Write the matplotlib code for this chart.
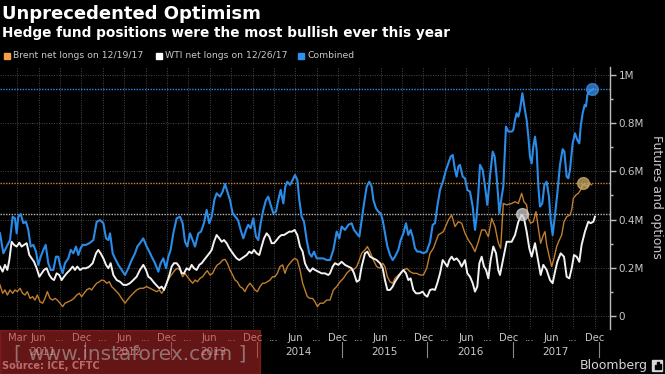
import numpy as np
import pandas as pd
import matplotlib
matplotlib.use("Agg")
import matplotlib.pyplot as plt
from matplotlib.patches import Rectangle
from matplotlib.transforms import blended_transform_factory

plt.rcParams['font.family'] = ['DejaVu Sans']

# ---------------- data: (years since 2011-01-01, million contracts) ----------------
combined = [
 (0.000,.343),(0.039,.260),(0.078,.288),(0.117,.315),(0.148,.412),(0.175,.405),(0.195,.343),(0.214,.412),(0.242,.423),(0.273,.385),
 (0.304,.391),(0.331,.357),(0.359,.288),(0.390,.295),(0.421,.267),(0.448,.212),(0.476,.246),(0.507,.274),(0.534,.295),(0.565,.219),
 (0.593,.191),(0.624,.191),(0.655,.246),(0.682,.246),(0.702,.212),(0.733,.177),(0.760,.219),(0.799,.239),(0.827,.274),(0.858,.260),
 (0.889,.288),(0.916,.253),(0.943,.281),(0.967,.295),(1.006,.295),(1.045,.302),(1.092,.315),(1.131,.391),(1.170,.398),(1.209,.385),
 (1.240,.322),(1.267,.315),(1.287,.343),(1.318,.260),(1.345,.239),(1.384,.212),(1.423,.191),(1.462,.170),(1.501,.198),(1.540,.232),
 (1.579,.260),(1.606,.288),(1.637,.302),(1.676,.322),(1.715,.288),(1.747,.267),(1.774,.246),(1.813,.219),(1.852,.184),(1.879,.219),
 (1.910,.239),(1.942,.198),(1.969,.246),(1.996,.274),(2.027,.343),(2.066,.405),(2.105,.412),(2.136,.385),(2.164,.308),(2.191,.288),
 (2.222,.343),(2.253,.315),(2.281,.288),(2.320,.343),(2.351,.350),(2.386,.385),(2.417,.440),(2.448,.385),(2.476,.412),(2.507,.481),
 (2.534,.509),(2.573,.495),(2.604,.516),(2.632,.548),(2.659,.516),(2.690,.481),(2.721,.426),(2.752,.412),(2.784,.398),(2.815,.357),
 (2.846,.322),(2.877,.357),(2.904,.378),(2.932,.364),(2.963,.405),(2.994,.329),(3.021,.315),(3.049,.385),(3.080,.440),(3.111,.481),
 (3.138,.495),(3.166,.461),(3.197,.426),(3.228,.433),(3.255,.481),(3.283,.523),(3.314,.467),(3.337,.537),(3.361,.557),(3.392,.544),
 (3.423,.564),(3.450,.585),(3.478,.564),(3.501,.481),(3.528,.412),(3.556,.391),(3.587,.315),(3.618,.260),(3.645,.246),(3.673,.267),
 (3.704,.239),(3.743,.239),(3.782,.239),(3.821,.232),
 (3.860,.232),(3.899,.274),(3.938,.350),(3.969,.322),(3.996,.371),(4.035,.357),(4.074,.378),(4.113,.385),(4.141,.357),(4.172,.343),
 (4.203,.329),(4.230,.398),(4.258,.467),(4.289,.537),(4.320,.557),(4.347,.537),(4.367,.481),(4.398,.447),(4.425,.433),(4.453,.426),
 (4.476,.398),(4.503,.343),(4.531,.288),(4.562,.253),(4.593,.232),(4.620,.246),(4.659,.274),(4.687,.315),(4.718,.343),(4.749,.385),
 (4.776,.336),(4.803,.357),(4.827,.329),(4.854,.281),(4.881,.267),(4.913,.267),(4.952,.260),(4.991,.267),(5.030,.308),(5.061,.378),
 (5.088,.385),(5.115,.454),(5.147,.523),(5.186,.564),(5.217,.606),(5.244,.633),(5.271,.661),(5.295,.668),(5.322,.606),(5.341,.578),
 (5.361,.620),(5.380,.627),(5.412,.578),(5.439,.571),(5.466,.523),(5.497,.516),(5.529,.454),(5.556,.357),(5.575,.412),(5.595,.509),
 (5.614,.627),(5.646,.606),(5.673,.537),(5.700,.461),(5.731,.578),(5.763,.682),(5.786,.661),(5.809,.578),(5.841,.426),(5.868,.495),
 (5.887,.537),(5.918,.786),(5.946,.765),(5.985,.765),(6.004,.772),(6.024,.813),(6.043,.841),(6.063,.827),(6.082,.855),(6.110,.924),
 (6.133,.869),(6.160,.813),(6.180,.744),(6.199,.661),(6.219,.633),(6.238,.703),(6.258,.744),(6.277,.689),(6.297,.537),(6.316,.454),
 (6.343,.467),(6.367,.544),(6.394,.557),(6.421,.495),(6.441,.398),(6.464,.336),(6.492,.419),(6.519,.509),(6.550,.627),(6.581,.692),
 (6.601,.682),(6.628,.578),(6.648,.571),(6.667,.606),(6.698,.716),(6.725,.758),(6.753,.730),(6.776,.716),(6.792,.786),(6.815,.841),
 (6.839,.876),(6.854,.869),(6.870,.917),(6.893,.931),(6.920,.938),(6.940,.941)]

brent = [
 (0.000,.129),(0.031,.094),(0.058,.108),(0.086,.087),(0.117,.108),(0.148,.094),(0.175,.108),(0.203,.101),(0.234,.115),(0.265,.094),
 (0.292,.087),(0.320,.101),(0.351,.073),(0.382,.080),(0.409,.066),(0.437,.087),(0.468,.059),(0.499,.053),(0.526,.073),(0.554,.101),
 (0.585,.073),(0.616,.066),(0.643,.073),(0.671,.066),(0.702,.053),(0.733,.039),(0.760,.053),(0.799,.059),(0.838,.066),(0.865,.073),
 (0.897,.087),(0.928,.094),(0.955,.080),(0.982,.094),(1.014,.108),(1.045,.115),(1.072,.108),(1.099,.122),(1.131,.136),(1.162,.142),
 (1.189,.149),(1.216,.147),(1.248,.136),(1.279,.142),(1.306,.122),(1.345,.108),(1.384,.094),(1.423,.073),(1.462,.053),(1.489,.066),
 (1.520,.080),(1.559,.094),(1.598,.108),(1.637,.115),(1.676,.115),(1.715,.122),(1.754,.115),(1.793,.108),(1.832,.101),(1.864,.108),
 (1.891,.094),(1.918,.108),(1.949,.136),(1.988,.163),(2.019,.177),(2.047,.191),(2.074,.198),(2.105,.191),(2.136,.163),(2.164,.177),
 (2.191,.163),(2.222,.149),(2.253,.136),(2.281,.149),(2.308,.142),(2.339,.156),(2.370,.163),(2.398,.177),(2.425,.188),(2.456,.170),
 (2.487,.177),(2.515,.198),(2.542,.212),(2.573,.219),(2.604,.232),(2.632,.235),(2.659,.219),(2.690,.191),(2.721,.170),(2.749,.149),
 (2.776,.142),(2.807,.122),(2.838,.115),(2.865,.101),(2.893,.122),(2.924,.136),(2.955,.122),(2.982,.108),(3.010,.101),(3.041,.122),
 (3.072,.136),(3.099,.136),(3.127,.142),(3.158,.149),(3.189,.163),(3.216,.163),(3.244,.177),(3.275,.205),(3.306,.212),(3.333,.177),
 (3.361,.205),(3.392,.219),(3.423,.232),(3.450,.239),(3.478,.232),(3.509,.191),(3.540,.136),(3.567,.108),(3.595,.080),(3.626,.073),
 (3.657,.073),(3.684,.059),(3.712,.039),(3.743,.053),(3.782,.053),(3.821,.066),(3.860,.066),
 (3.899,.108),(3.938,.122),(3.977,.142),(4.016,.156),(4.055,.177),(4.094,.191),(4.133,.191),(4.172,.205),(4.203,.232),(4.230,.260),
 (4.269,.274),(4.297,.288),(4.328,.267),(4.367,.232),(4.406,.205),(4.445,.198),(4.476,.219),(4.503,.205),(4.531,.163),(4.562,.142),
 (4.593,.136),(4.620,.156),(4.659,.170),(4.698,.184),(4.757,.198),(4.796,.184),(4.835,.177),(4.874,.177),(4.913,.170),(4.952,.170),
 (4.991,.198),(5.030,.260),(5.069,.281),(5.127,.336),(5.186,.350),(5.244,.398),(5.283,.419),(5.322,.371),(5.361,.391),(5.400,.385),
 (5.439,.343),(5.478,.315),(5.517,.295),(5.556,.267),(5.595,.308),(5.634,.357),(5.673,.357),(5.712,.329),(5.751,.405),(5.790,.371),
 (5.829,.302),(5.856,.281),(5.887,.467),(5.926,.461),(5.985,.467),(6.024,.474),(6.063,.467),(6.102,.509),(6.129,.474),(6.160,.461),
 (6.180,.405),(6.207,.385),(6.238,.391),(6.269,.433),(6.297,.364),(6.324,.302),(6.355,.336),(6.375,.350),(6.394,.295),(6.425,.246),
 (6.453,.205),(6.480,.239),(6.511,.288),(6.542,.315),(6.570,.336),(6.597,.391),(6.628,.412),(6.667,.419),(6.687,.440),(6.706,.488),
 (6.737,.502),(6.764,.509),(6.792,.523),(6.815,.544),(6.842,.544),(6.870,.537),(6.901,.550),(6.920,.544)]

wti = [
 (0.000,.205),(0.031,.184),(0.058,.212),(0.086,.191),(0.109,.232),(0.136,.308),(0.164,.295),(0.195,.288),(0.226,.304),(0.253,.288),
 (0.281,.295),(0.312,.302),(0.343,.253),(0.370,.239),(0.398,.225),(0.429,.198),(0.460,.163),(0.487,.177),(0.515,.191),(0.546,.198),
 (0.577,.170),(0.604,.156),(0.632,.149),(0.663,.177),(0.694,.170),(0.721,.149),(0.749,.163),(0.780,.177),(0.819,.191),(0.850,.205),
 (0.877,.191),(0.904,.205),(0.936,.191),(0.967,.198),(1.006,.198),(1.045,.205),(1.084,.219),(1.123,.260),(1.150,.274),(1.177,.260),
 (1.209,.239),(1.240,.212),(1.267,.198),(1.294,.219),(1.326,.170),(1.365,.149),(1.404,.142),(1.443,.129),(1.481,.129),(1.520,.136),
 (1.559,.149),(1.598,.163),(1.637,.191),(1.676,.212),(1.708,.191),(1.735,.163),(1.762,.156),(1.793,.142),(1.825,.129),(1.864,.115),
 (1.891,.122),(1.918,.108),(1.949,.136),(1.981,.170),(2.008,.205),(2.035,.219),(2.066,.219),(2.097,.205),(2.125,.177),(2.152,.177),
 (2.183,.198),(2.214,.191),(2.242,.212),(2.269,.198),(2.300,.191),(2.331,.212),(2.359,.219),(2.386,.232),(2.417,.246),(2.448,.260),
 (2.476,.274),(2.503,.308),(2.534,.336),(2.565,.322),(2.593,.308),(2.620,.315),(2.651,.302),(2.682,.281),(2.710,.267),(2.737,.253),
 (2.768,.239),(2.799,.232),(2.827,.239),(2.854,.246),(2.885,.253),(2.916,.267),(2.943,.260),(2.971,.274),(3.002,.260),(3.033,.253),
 (3.060,.288),(3.088,.322),(3.119,.343),(3.150,.329),(3.177,.302),(3.205,.302),(3.236,.315),(3.267,.329),(3.294,.336),(3.322,.336),
 (3.353,.343),(3.384,.350),(3.415,.350),(3.446,.357),(3.478,.336),(3.509,.288),(3.540,.267),(3.567,.219),(3.595,.198),(3.626,.184),
 (3.657,.198),(3.684,.191),(3.723,.184),(3.762,.177),(3.801,.177),(3.840,.170),
 (3.860,.177),(3.891,.205),(3.918,.219),(3.957,.212),(3.996,.225),(4.035,.212),(4.074,.205),(4.113,.198),(4.141,.177),(4.172,.142),
 (4.203,.149),(4.230,.205),(4.269,.260),(4.297,.267),(4.328,.246),(4.367,.239),(4.406,.232),(4.445,.219),(4.476,.198),(4.503,.149),
 (4.531,.108),(4.562,.108),(4.593,.122),(4.620,.142),(4.659,.163),(4.687,.177),(4.718,.191),(4.749,.177),(4.776,.149),(4.803,.156),
 (4.835,.108),(4.866,.094),(4.905,.094),(4.944,.101),(4.971,.087),(4.998,.080),(5.030,.108),(5.061,.111),(5.088,.108),(5.115,.136),
 (5.147,.177),(5.178,.232),(5.205,.219),(5.232,.205),(5.256,.232),(5.283,.246),(5.310,.232),(5.341,.239),(5.373,.225),(5.400,.205),
 (5.439,.232),(5.466,.177),(5.497,.163),(5.529,.136),(5.556,.101),(5.583,.122),(5.607,.219),(5.634,.246),(5.661,.205),(5.685,.191),
 (5.712,.156),(5.739,.232),(5.770,.288),(5.802,.260),(5.829,.190),(5.848,.170),(5.887,.239),(5.926,.308),(5.985,.308),(6.024,.336),
 (6.063,.391),(6.102,.420),(6.129,.405),(6.160,.350),(6.191,.281),(6.219,.246),(6.258,.302),(6.297,.225),(6.324,.170),(6.355,.212),
 (6.394,.191),(6.433,.149),(6.464,.136),(6.492,.184),(6.519,.225),(6.558,.260),(6.597,.246),(6.628,.163),(6.659,.156),(6.687,.198),
 (6.714,.253),(6.745,.246),(6.776,.225),(6.803,.295),(6.842,.350),(6.881,.391),(6.909,.385),(6.940,.391),(6.959,.412)]

# record levels and where they were marked
record_combined = (6.925, 0.942)
record_brent = (6.820, 0.551)
record_wti = (6.104, 0.423)

legend_labels = ["Brent net longs on 12/19/17", "WTI net longs on 12/26/17", "Combined"]
ytick_vals = [0, 0.2, 0.4, 0.6, 0.8, 1.0]
ytick_labels = ["0", "0.2M", "0.4M", "0.6M", "0.8M", "1M"]
years = list(range(2011, 2018))

BASE = pd.Timestamp("2011-01-01")
def to_date(yrs):
    return BASE + pd.to_timedelta(np.asarray(yrs, dtype=float) * 365.25, unit="D")

def split(series):
    t, v = zip(*series)
    return to_date(t), np.array(v)

# ---------------- figure ----------------
W, H = 665, 374
fig = plt.figure(figsize=(W / 100, H / 100), dpi=100, facecolor="black")
ax_l, ax_r, ax_t, ax_b = 0, 610, 67, 329
ax = fig.add_axes([ax_l / W, 1 - ax_b / H, (ax_r - ax_l) / W, (ax_b - ax_t) / H])
ax.set_facecolor("black")

BLUE = "#2a8ce8"
ORANGE_LINE = "#c17e2e"
ORANGE_SQ = "#f5a23e"
WHITE = "#f2f2f2"

# reference dotted lines
ax.axhline(record_combined[1], color=BLUE, lw=1.0, ls=(0, (1, 1)), zorder=2)
ax.axhline(record_brent[1], color="#c8893a", lw=1.0, ls=(0, (1, 1)), zorder=2)
ax.axhline(record_wti[1], color="#b8b8b8", lw=1.0, ls=(0, (1, 1)), zorder=2)

d, v = split(brent)
ax.plot(d, v, color=ORANGE_LINE, lw=1.0, zorder=3)
d, v = split(wti)
ax.plot(d, v, color=WHITE, lw=1.4, zorder=4)
d, v = split(combined)
ax.plot(d, v, color=BLUE, lw=1.5, zorder=5)

for (t, val), col in [(record_combined, "#3a90e8"), (record_brent, "#c9ad6a"), (record_wti, "#cfcfcf")]:
    ax.plot(to_date([t]), [val], "o", ms=8.5, mfc=col, mec=col, alpha=0.75, zorder=6)

ax.set_xlim(BASE, to_date([7.135])[0])
ax.set_ylim(-0.054, 1.033)

# spines
for s in ["left", "top", "bottom"]:
    ax.spines[s].set_visible(False)
ax.spines["right"].set_color("#bdbdbd")
ax.spines["right"].set_linewidth(1.0)

# y axis on right
ax.yaxis.tick_right()
ax.set_yticks(ytick_vals)
ax.set_yticklabels(ytick_labels)
ax.set_yticks([0.1, 0.3, 0.5, 0.7, 0.9], minor=True)
ax.tick_params(axis="y", which="major", length=4, width=1, color="#bdbdbd",
               labelcolor="#c8c8c8", labelsize=7.5, pad=2)
ax.tick_params(axis="y", which="minor", length=2, width=1, color="#bdbdbd")

# x ticks quarterly
qticks, qlabels = [], []
for y in years:
    for m, lab in [(3, "..."), (6, "Jun"), (9, "..."), (12, "Dec")]:
        qticks.append(pd.Timestamp(year=y, month=m, day=15))
        if y == 2011 and m == 3:
            lab = "Mar"
        qlabels.append(lab)
ax.set_xticks(qticks)
ax.set_xticklabels(qlabels)
ax.tick_params(axis="x", length=0, labelcolor="#c8c8c8", labelsize=7.2, pad=3)

gridkw = dict(color="#4a4a4a", lw=0.7, ls=(0, (1, 1.5)))
ax.yaxis.grid(True, which="major", **gridkw)
ax.xaxis.grid(True, which="major", **gridkw)
ax.set_axisbelow(True)

trans = blended_transform_factory(ax.transData, ax.transAxes)
for y in years:
    ax.text(pd.Timestamp(year=y, month=7, day=1), -0.089, str(y), transform=trans,
            ha="center", va="center", color="#c8c8c8", fontsize=7.5, clip_on=False)
for y in range(2012, 2019):
    ax.plot([pd.Timestamp(year=y, month=1, day=1)] * 2, [-0.05, -0.107], transform=trans,
            color="#8a8a8a", lw=0.8, clip_on=False)

# right axis label
fig.text(657 / W, 1 - 197 / H, "Futures and options", rotation=270, ha="center", va="center",
         color="#c8c8c8", fontsize=9)

# titles
fig.text(2 / W, 1 - 14 / H, "Unprecedented Optimism", fontsize=13, weight="bold",
         color="white", ha="left", va="center")
fig.text(2 / W, 1 - 33 / H, "Hedge fund positions were the most bullish ever this year",
         fontsize=9.8, weight="bold", color="white", ha="left", va="center")

# legend
for x0, col, lab in [(4, ORANGE_SQ, legend_labels[0]), (156, "#ffffff", legend_labels[1]),
                     (298, "#2f8fec", legend_labels[2])]:
    fig.patches.append(Rectangle((x0 / W, 1 - 58.5 / H), 6 / W, 6 / H, transform=fig.transFigure,
                                 color=col, zorder=5))
    fig.text((x0 + 9) / W, 1 - 55.5 / H, lab, fontsize=6.7, color="#c8c8c8", ha="left", va="center")

# footer
fig.text(2 / W, 1 - 366 / H, "Source: ICE, CFTC", fontsize=7, weight="bold", color="#bdbdbd",
         ha="left", va="center")
fig.text(648 / W, 1 - 365 / H, "Bloomberg", fontsize=9, color="#d6d6d6", ha="right", va="center")
fig.patches.append(Rectangle((652 / W, 1 - 371 / H), 10 / W, 11 / H, transform=fig.transFigure,
                             color="#d6d6d6", zorder=5))
for bx, bh in [(654.5, 4), (657, 7), (659.5, 5)]:
    fig.patches.append(Rectangle((bx / W, 1 - 369 / H), 1.5 / W, bh / H, transform=fig.transFigure,
                                 color="black", zorder=6))

# watermark
fig.patches.append(Rectangle((0, 0), 260 / W, 44 / H, transform=fig.transFigure,
                             color="#b82828", alpha=0.55, zorder=20))
fig.text(130 / W, 1 - 354 / H, "[ www.instaforex.com ]", fontsize=14.5, color="#bdbdbd",
         alpha=0.55, ha="center", va="center", zorder=21)

fig.savefig("out.png", dpi=100, facecolor="black")
